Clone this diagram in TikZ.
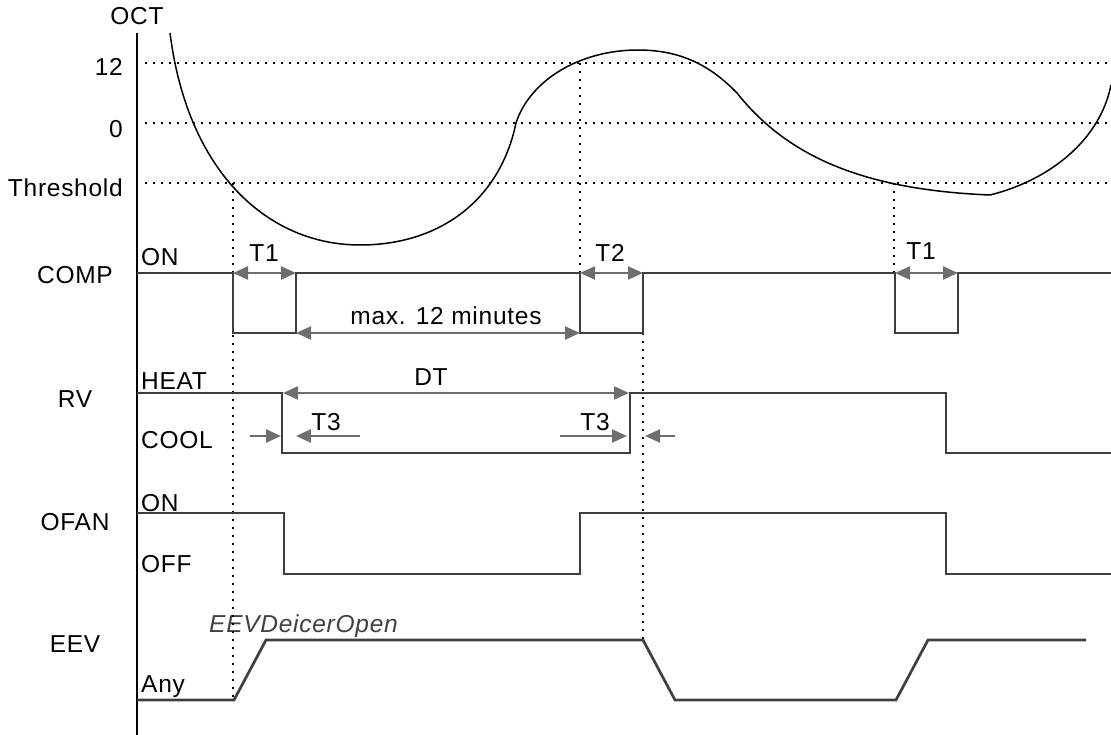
\documentclass[tikz,border=0pt]{standalone}
\usepackage{fontspec}
\setmainfont[LetterSpace=3]{Liberation Sans}
\usetikzlibrary{arrows.meta}
\definecolor{sigc}{HTML}{3F3F3F}
\definecolor{arrc}{HTML}{6E6E6E}
\definecolor{lblc}{HTML}{404040}
\begin{document}
\begin{tikzpicture}[x=1pt,y=-1pt,
  every node/.style={font=\fontsize{24.5}{29}\selectfont,inner sep=0pt},
  sigline/.style={draw=sigc,line width=2.7pt,line join=miter},
  dotline/.style={line width=2.3pt,line cap=butt,dash pattern=on 2.3pt off 5.7pt},
  tip/.tip={Triangle[length=15pt,width=13pt]},
  dimarrow/.style={draw=arrc,line width=2.2pt,tip-tip},
  onearrow/.style={draw=arrc,line width=2.2pt,-tip},
  curveline/.style={line width=1.5pt},
  rowlabel/.style={anchor=base},
  statelabel/.style={anchor=base west},
  ticklabel/.style={anchor=base east}
]
\useasboundingbox (0,0) rectangle (1111,735);

% axis
\coordinate (axtop) at (137,33);
\coordinate (axbot) at (137,735);
\draw[line width=2.8pt] (axtop) -- (axbot);

% axis labels
\node[rowlabel] (oct) at (137,25) {OCT};
\node[ticklabel] (l12) at (123,76) {12};
\node[ticklabel] (l0) at (123,138) {0};
\node[ticklabel] (lth) at (123,197) {Threshold};

\node[rowlabel] (comp) at (75,284) {COMP};
\node[rowlabel] (rv) at (75,407) {RV};
\node[rowlabel] (ofan) at (75,530) {OFAN};
\node[rowlabel] (eev) at (75,652) {EEV};

\node[statelabel] (con) at (141,266) {ON};
\node[statelabel] (heat) at (141,389) {HEAT};
\node[statelabel] (cool) at (141,448) {COOL};
\node[statelabel] (fon) at (141,511) {ON};
\node[statelabel] (foff) at (141,572) {OFF};
\node[statelabel] (any) at (141,692) {Any};
\node[statelabel,text=lblc,font=\fontsize{24.5}{29}\selectfont\itshape] (deicer) at (209,632) {EEVDeicerOpen};

% horizontal dotted levels
\coordinate (h12a) at (145,62.7); \coordinate (h12b) at (1111,62.7);
\coordinate (h0a) at (145,123); \coordinate (h0b) at (1111,123);
\coordinate (htha) at (145,183); \coordinate (hthb) at (1111,183);
\draw[dotline] (h12a) -- (h12b);
\draw[dotline] (h0a) -- (h0b);
\draw[dotline] (htha) -- (hthb);

% vertical dotted markers
\coordinate (v1a) at (233,183); \coordinate (v1b) at (233,699);
\coordinate (v2a) at (580,62.7); \coordinate (v2b) at (580,273);
\coordinate (v3a) at (643,333); \coordinate (v3b) at (643,640);
\coordinate (v4a) at (894,183); \coordinate (v4b) at (894,273);
\draw[dotline] (v1a) -- (v1b);
\draw[dotline] (v2a) -- (v2b);
\draw[dotline] (v3a) -- (v3b);
\draw[dotline] (v4a) -- (v4b);

% OCT curve
\coordinate (c0) at (170,33);
\coordinate (c1) at (360,245);
\coordinate (c2) at (516,123);
\coordinate (c3) at (638,50);
\coordinate (c4) at (737,93);
\coordinate (c5) at (990,195);
\coordinate (c6) at (1111,85);
\draw[curveline] (c0) .. controls (188,175) and (270,245) .. (c1)
  .. controls (440,245) and (500,200) .. (c2)
  .. controls (530,80) and (580,50) .. (c3)
  .. controls (680,50) and (710,65) .. (c4)
  .. controls (790,160) and (870,190) .. (c5)
  .. controls (1050,180) and (1100,140) .. (c6);

% COMP
\draw[sigline] (137,273) -| (233,333) -| (296,273) -| (580,333) -| (643,273) -| (895,333) -| (958,273) -- (1111,273);
% RV
\draw[sigline] (137,393) -| (282,453) -| (630,393) -| (946,453) -- (1111,453);
% OFAN
\draw[sigline] (137,513) -| (284,574) -| (580,513) -| (946,574) -- (1111,574);
% EEV
\draw[sigline] (137,700) -- (234,700) -- (266,640) -- (643,640) -- (675,700) -- (896,700) -- (928,640) -- (1086,640);

% dimension arrows
\coordinate (t1a) at (233,273); \coordinate (t1b) at (296,273);
\coordinate (mxa) at (296,333); \coordinate (mxb) at (580,333);
\coordinate (t2a) at (580,273); \coordinate (t2b) at (643,273);
\coordinate (t1c) at (895,273); \coordinate (t1d) at (958,273);
\coordinate (dta) at (283,393); \coordinate (dtb) at (629,393);
\draw[dimarrow] (t1a) -- (t1b);
\draw[dimarrow] (mxa) -- (mxb);
\draw[dimarrow] (t2a) -- (t2b);
\draw[dimarrow] (t1c) -- (t1d);
\draw[dimarrow] (dta) -- (dtb);

\coordinate (a1s) at (250,436); \coordinate (a1e) at (281,436);
\coordinate (a2s) at (360,436); \coordinate (a2e) at (296,436);
\coordinate (a3s) at (560,436); \coordinate (a3e) at (627,436);
\coordinate (a4s) at (675,436); \coordinate (a4e) at (645,436);
\draw[onearrow] (a1s) -- (a1e);
\draw[onearrow] (a2s) -- (a2e);
\draw[onearrow] (a3s) -- (a3e);
\draw[onearrow] (a4s) -- (a4e);

\node[rowlabel] (t1lab) at (264,262) {T1};
\node[rowlabel] (t2lab) at (610,262) {T2};
\node[rowlabel] (t1lab2) at (921,260) {T1};
\node[rowlabel] (maxlab) at (446,325) {max. 12 minutes};
\node[rowlabel] (dtlab) at (431,385) {DT};
\node[rowlabel] (t3lab1) at (326,430) {T3};
\node[rowlabel] (t3lab2) at (595,430) {T3};
\end{tikzpicture}
\end{document}
